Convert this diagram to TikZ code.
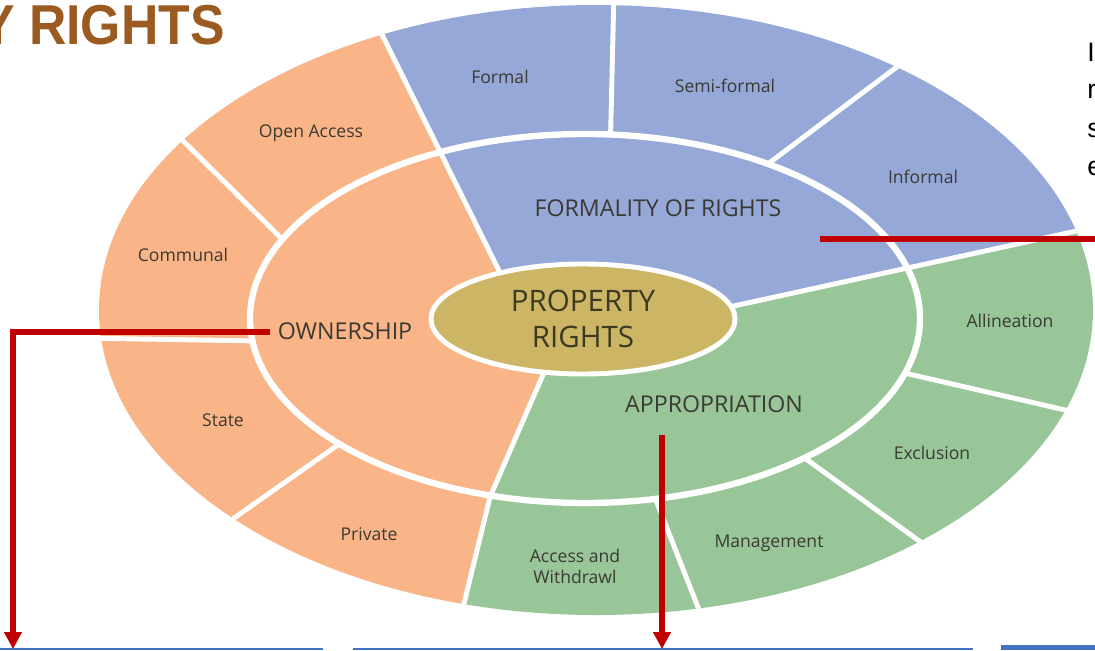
\documentclass[tikz,border=0pt]{standalone}
\usepackage{fontspec}
\setmainfont{Open Sans}
\newfontfamily\arialfont{Liberation Sans}
\usetikzlibrary{arrows.meta,shapes.geometric}
\definecolor{orng}{HTML}{F9B487}
\definecolor{blu}{HTML}{95A8D8}
\definecolor{grn}{HTML}{99C699}
\definecolor{olivefill}{HTML}{CDB566}
\definecolor{txt}{HTML}{3A3A32}
\definecolor{ctxt}{HTML}{3D3A22}
\definecolor{redarr}{HTML}{C00000}
\definecolor{titlec}{HTML}{9B5A1F}
\definecolor{boxblue}{HTML}{4472C4}
\begin{document}
\begin{tikzpicture}[x=0.025cm,y=-0.025cm,
 sep/.style={white,line width=3.5pt},
 lbl/.style={text=txt,font=\fontsize{12.5}{15}\selectfont,align=center,inner sep=1pt},
 big/.style={text=txt,font=\fontsize{16.5}{19}\selectfont,inner sep=2pt},
 arr/.style={redarr,line width=3.8pt,-{Triangle[width=12pt,length=12pt]}},
 edge/.style={anchor=base west,font=\arialfont\fontsize{19}{22}\selectfont,inner sep=0pt},
 ]
\useasboundingbox (0,0) rectangle (1095,650);

% sectors
\begin{scope}
\clip (596,310) ellipse [x radius=497, y radius=305];
\fill[orng] (560,330) -- (515,303) -- (350,-30) -- (-10,-30) -- (-10,700) -- (452,700) -- (460,620) -- (490,497) -- (545,370) -- cycle;
\fill[blu] (560,330) -- (515,303) -- (350,-30) -- (1200,-30) -- (1200,204) -- (720,309) -- cycle;
\fill[grn] (560,330) -- (720,309) -- (1200,204) -- (1200,700) -- (452,700) -- (460,620) -- (490,497) -- (545,370) -- cycle;
\draw[sep] (515,303) -- (350,-30);
\draw[sep] (720,309) -- (1200,204);
\draw[sep] (545,370) -- (490,497) -- (460,620) -- (455,660);
\end{scope}

% minor separators in outer ring
\begin{scope}[even odd rule]
\clip (596,310) ellipse [x radius=497, y radius=305]
      (585,318.5) ellipse [x radius=335, y radius=184.5];
\draw[sep] (290,247) -- (150,108);
\draw[sep] (260,341) -- (80,338);
\draw[sep] (345,440) -- (200,542);
\draw[sep] (610,160) -- (614,-10);
\draw[sep] (736,188) -- (910,57);
\draw[sep] (900,372) -- (1100,418);
\draw[sep] (795,451) -- (940,556);
\draw[sep] (650,485) -- (705,625);
\end{scope}

\draw[white,line width=4.5pt] (585,318.5) ellipse [x radius=335, y radius=184.5];

% centre
\node[ellipse,draw=white,line width=3.5pt,fill=olivefill,minimum width=7.6cm,minimum height=2.75cm,
      text=ctxt,font=\fontsize{21}{26}\selectfont,align=center,inner sep=0pt] (centre) at (583,319) {PROPERTY\\RIGHTS};

% labels
\node[lbl] (formal) at (500,77) {Formal};
\node[lbl] (semi) at (725,86) {Semi-formal};
\node[lbl] (informal) at (923,177) {Informal};
\node[big] (formality) at (658,208) {FORMALITY OF RIGHTS};
\node[lbl] (open) at (311,133) {Open Access};
\node[lbl] (communal) at (183,255) {Communal};
\node[big] (own) at (345,331) {OWNERSHIP};
\node[lbl] (state) at (223,420) {State};
\node[lbl] (private) at (369,534) {Private};
\node[big] (approp) at (714,404) {APPROPRIATION};
\node[lbl] (alli) at (1010,321) {Allineation};
\node[lbl] (excl) at (932,453) {Exclusion};
\node[lbl] (mgmt) at (769,543) {Management};
\node[lbl] (access) at (575,566) {Access and\\Withdrawl};

% title and cut-off text
\node[anchor=base west,font=\arialfont\bfseries\fontsize{40}{40}\selectfont,text=titlec,xscale=0.92,inner sep=0pt] (title) at (-20,45) {Y RIGHTS};
\node[edge] (e1) at (1087,62) {I};
\node[edge] (e2) at (1087,99) {r};
\node[edge] (e3) at (1087,137) {s};
\node[edge] (e4) at (1087,175) {e};

% red arrows
\coordinate (a1) at (270,332);
\coordinate (b1) at (13,649);
\coordinate (a2) at (662,435);
\coordinate (b2) at (662,649);
\coordinate (a3) at (820,239);
\coordinate (b3) at (1095,239);
\draw[arr] (a1) -| (b1);
\draw[arr] (a2) -- (b2);
\draw[redarr,line width=3.8pt] (a3) -- (b3);

% bottom box edges
\draw[boxblue,line width=1.5pt] (0,649) -- (323,649);
\draw[boxblue,line width=1.5pt] (353,649) -- (973,649);
\fill[boxblue] (1001,645) rectangle (1095,650);
\end{tikzpicture}
\end{document}
